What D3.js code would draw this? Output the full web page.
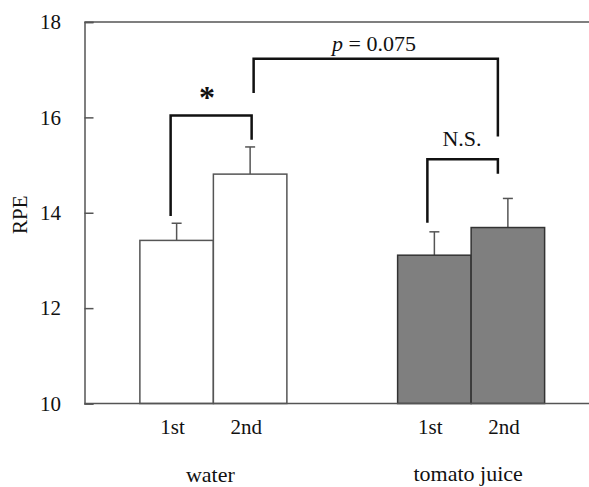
<!DOCTYPE html>
<html>
<head>
<meta charset="utf-8">
<script src="https://cdn.jsdelivr.net/npm/d3@7"></script>
<style>
  body { margin: 0; background: #fff; }
  text { font-family: "Liberation Serif", "Times New Roman", serif; fill: #111; }
</style>
</head>
<body>
<div id="chart"></div>
<script>
// data
const groups = ["water", "tomato juice"]
const trials = ["1st", "2nd"]
const means = [[13.42, 14.81], [13.11, 13.69]]
const errTops = [[13.78, 15.38], [13.60, 14.30]]
const yTicks = [10, 12, 14, 16, 18]

// significance brackets: [group, trial] at each end, bar height, leg bottoms
const brackets = [
  { from: [0, 0], to: [0, 1], top: 16.04, leftEnd: 13.93, rightEnd: 15.53, label: "*" },
  { from: [0, 1], to: [1, 1], top: 17.23, leftEnd: 16.51, rightEnd: 15.60, label: "p = 0.075" },
  { from: [1, 0], to: [1, 1], top: 15.12, leftEnd: 13.79, rightEnd: 14.82, label: "N.S." }
]

const W = 589, H = 487
const MARGIN = { TOP: 22, BOTTOM: 84, LEFT: 84.5 }

const svg = d3.select("#chart").append("svg")
  .attr("width", W).attr("height", H)

const y = d3.scaleLinear().domain([10, 18]).range([H - MARGIN.BOTTOM + 0.5, MARGIN.TOP])
const xGroup = d3.scalePoint().domain(groups).range([MARGIN.LEFT, 600]).padding(0.5)
const xTrial = d3.scaleBand().domain(trials).range([-73.5, 73.5])

const barX = (g, t) => xGroup(groups[g]) + xTrial(trials[t])
const barMid = (g, t) => barX(g, t) + xTrial.bandwidth() / 2

// frame: top line
svg.append("line")
  .attr("x1", MARGIN.LEFT).attr("x2", W)
  .attr("y1", y(18)).attr("y2", y(18))
  .attr("stroke", "#555").attr("stroke-width", 1.5)

// bars
const rows = []
means.forEach((m, g) => m.forEach((v, t) => rows.push({ g, t, v, e: errTops[g][t] })))

// error bars (drawn under bars so they start at the bar top)
const eb = svg.append("g")
rows.forEach(d => {
  const cx = barMid(d.g, d.t)
  eb.append("line").attr("x1", cx).attr("x2", cx)
    .attr("y1", y(d.v)).attr("y2", y(d.e))
    .attr("stroke", "#555").attr("stroke-width", 1.5)
  eb.append("line").attr("x1", cx - 5).attr("x2", cx + 5)
    .attr("y1", y(d.e)).attr("y2", y(d.e))
    .attr("stroke", "#555").attr("stroke-width", 1.5)
})

svg.append("g").selectAll("rect")
  .data(rows)
  .enter().append("rect")
    .attr("x", d => barX(d.g, d.t))
    .attr("y", d => y(d.v))
    .attr("width", xTrial.bandwidth())
    .attr("height", d => y(10) - y(d.v))
    .attr("fill", d => d.g === 0 ? "#fff" : "#7f7f7f")
    .attr("stroke", d => d.g === 0 ? "#555" : "#333")
    .attr("stroke-width", 1.5)

// y axis
const yAxis = svg.append("g")
  .attr("transform", `translate(${MARGIN.LEFT},0)`)
  .call(d3.axisRight(y).tickValues(yTicks).tickSize(9).tickFormat(""))
yAxis.select(".domain").attr("stroke", "#555").attr("stroke-width", 1.5)
yAxis.selectAll(".tick line").attr("stroke", "#555").attr("stroke-width", 1.5)

svg.append("g").selectAll("text")
  .data(yTicks)
  .enter().append("text")
    .attr("x", 61).attr("y", d => y(d))
    .attr("dy", "0.35em")
    .attr("text-anchor", "end")
    .attr("font-size", 21)
    .text(d => d)

// x axis baseline
svg.append("line")
  .attr("x1", MARGIN.LEFT).attr("x2", W)
  .attr("y1", y(10)).attr("y2", y(10))
  .attr("stroke", "#555").attr("stroke-width", 1.5)

// trial labels
svg.append("g").selectAll("text")
  .data(rows)
  .enter().append("text")
    .attr("x", d => barMid(d.g, d.t) - 4)
    .attr("y", 434)
    .attr("text-anchor", "middle")
    .attr("font-size", 21)
    .text(d => trials[d.t])

// group labels
svg.append("g").selectAll("text")
  .data(groups)
  .enter().append("text")
    .attr("x", d => xGroup(d) - 3)
    .attr("y", (d, i) => i === 0 ? 481.5 : 480.5)
    .attr("text-anchor", "middle")
    .attr("font-size", 22)
    .text(d => d)

// y label
svg.append("text")
  .attr("transform", `translate(27,${(y(10) + y(18)) / 2 + 2}) rotate(-90)`)
  .attr("text-anchor", "middle")
  .attr("font-size", 21)
  .text("RPE")

// brackets
const legOffset = { "0,0": -6, "0,1": 1.5, "1,0": -7, "1,1": -10 }
const bx = (g, t) => barMid(g, t) + (legOffset[g + "," + t] || 0)
const bg = svg.append("g")
brackets.forEach((b, i) => {
  const x1 = bx(...b.from), x2 = bx(...b.to)
  // p bracket starts just right of the water bracket
  const xa = i === 1 ? x1 + 2 : x1
  bg.append("path")
    .attr("d", `M${xa},${y(b.leftEnd)}V${y(b.top)}H${x2}V${y(b.rightEnd)}`)
    .attr("fill", "none").attr("stroke", "#111").attr("stroke-width", 2.5)

  const t = bg.append("text")
    .attr("text-anchor", "middle")
    .attr("x", (xa + x2) / 2)
  if (b.label === "*") {
    t.attr("x", 207).attr("y", y(b.top) - 7)
      .attr("font-size", 32).attr("font-weight", "bold").text("*")
      .attr("font-family", "DejaVu Sans")
  } else if (b.label === "N.S.") {
    t.attr("x", 462).attr("y", y(b.top) - 13).attr("font-size", 22).text(b.label)
  } else {
    t.attr("x", 374).attr("y", y(b.top) - 8).attr("font-size", 22)
    t.append("tspan").attr("font-style", "italic").text("p")
    t.append("tspan").text(" = 0.075")
  }
})
</script>
</body>
</html>
